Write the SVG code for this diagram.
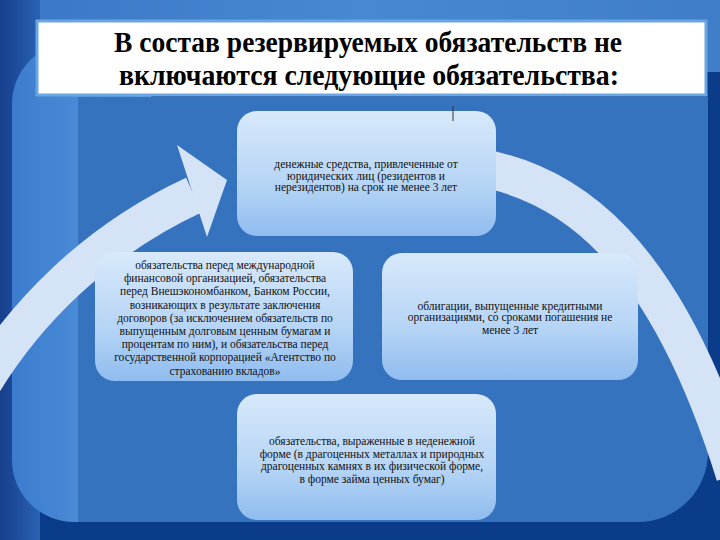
<svg xmlns="http://www.w3.org/2000/svg" width="720" height="540" viewBox="0 0 720 540">
<defs>
<linearGradient id="topband" x1="0" y1="0" x2="1" y2="0">
<stop offset="0" stop-color="#3a77c5"/><stop offset="0.5" stop-color="#4888d2"/><stop offset="1" stop-color="#3f7dc9"/>
</linearGradient>
<linearGradient id="leftstrip" x1="0" y1="0" x2="1" y2="0">
<stop offset="0" stop-color="#163f8c"/><stop offset="1" stop-color="#2a62b3"/>
</linearGradient>
<linearGradient id="leftpanel" x1="0" y1="0" x2="1" y2="0">
<stop offset="0" stop-color="#3b7cce"/><stop offset="1" stop-color="#5a9ae0"/>
</linearGradient>
<linearGradient id="box" x1="0" y1="0" x2="0" y2="1">
<stop offset="0" stop-color="#d8e9fb"/><stop offset="0.6" stop-color="#b5d4f5"/><stop offset="1" stop-color="#8fbcef"/>
</linearGradient>
<style>
.box{fill:url(#box);}
.t{font-size:11.5px;fill:#111;text-anchor:middle;}
.title{font-size:29px;font-weight:bold;fill:#000;text-anchor:middle;}
.arc{fill:none;stroke:#d5e3f6;stroke-width:38;}
</style>
</defs>
<rect x="0" y="0" width="720" height="540" fill="#0b3c8a"/>
<rect x="0" y="0" width="720" height="72" fill="url(#topband)"/>
<rect x="0" y="0" width="40" height="540" fill="url(#leftstrip)"/>
<rect x="12" y="42" width="140" height="480" rx="62" fill="url(#leftpanel)"/>
<path d="M78 97 H708 V452 A70 70 0 0 1 638 522 H78 Z" fill="#3673bf"/>
<g id="title" font-family="Liberation Serif, DejaVu Serif, serif">
<rect x="37" y="21" width="669" height="74" fill="#ffffff" stroke="#6aa6e2" stroke-width="3"/>
<text class="title" x="368" y="52" textLength="508" lengthAdjust="spacingAndGlyphs">В состав резервируемых обязательств не</text>
<text class="title" x="369" y="85" textLength="500" lengthAdjust="spacingAndGlyphs">включаются следующие обязательства:</text>
</g>
<g id="connectors">
<path class="arc" d="M-30 405 A490 490 0 0 1 194 195"/>
<polygon points="177,145 227,180 207,237" fill="#d5e3f6"/>
<path class="arc" d="M470 166 C570 180 665 250 735 475"/>
</g>
<g id="node-top" font-family="Liberation Serif, DejaVu Serif, serif">
<rect class="box" x="237" y="111" width="259" height="125" rx="20"/>
<line x1="453" y1="106" x2="453" y2="121" stroke="#333" stroke-width="1"/>
<text class="t" x="366" y="168">денежные средства, привлеченные от</text>
<text class="t" x="366" y="179.5">юридических лиц (резидентов и</text>
<text class="t" x="366" y="191">нерезидентов) на срок не менее 3 лет</text>
</g>
<g id="node-left" font-family="Liberation Serif, DejaVu Serif, serif">
<rect class="box" x="95" y="252" width="258" height="129" rx="20"/>
<text class="t" x="225" y="269">обязательства перед международной</text>
<text class="t" x="225" y="282.2">финансовой организацией, обязательства</text>
<text class="t" x="225" y="295.4">перед Внешэкономбанком, Банком России,</text>
<text class="t" x="225" y="308.6">возникающих в результате заключения</text>
<text class="t" x="225" y="321.8">договоров (за исключением обязательств по</text>
<text class="t" x="225" y="335">выпущенным долговым ценным бумагам и</text>
<text class="t" x="225" y="348.2">процентам по ним), и обязательства перед</text>
<text class="t" x="225" y="361.4">государственной корпорацией «Агентство по</text>
<text class="t" x="225" y="374.6">страхованию вкладов»</text>
</g>
<g id="node-right" font-family="Liberation Serif, DejaVu Serif, serif">
<rect class="box" x="382" y="253" width="256" height="127" rx="20"/>
<text class="t" x="510" y="310">облигации, выпущенные кредитными</text>
<text class="t" x="510" y="321">организациями, со сроками погашения не</text>
<text class="t" x="510" y="334">менее 3 лет</text>
</g>
<g id="node-bottom" font-family="Liberation Serif, DejaVu Serif, serif">
<rect class="box" x="237" y="394" width="259" height="126" rx="20"/>
<text class="t" x="372" y="445">обязательства, выраженные в неденежной</text>
<text class="t" x="372" y="457.5">форме (в драгоценных металлах и природных</text>
<text class="t" x="372" y="470">драгоценных камнях в их физической форме,</text>
<text class="t" x="372" y="482.5">в форме займа ценных бумаг)</text>
</g>
</svg>
